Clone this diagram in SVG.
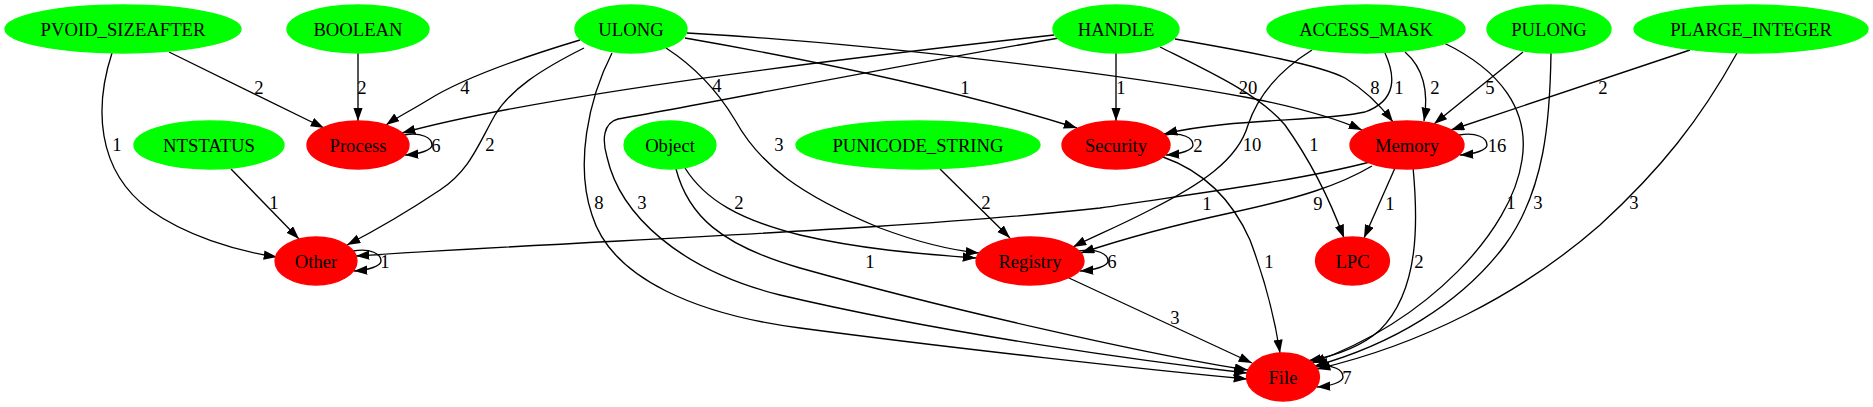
<svg xmlns="http://www.w3.org/2000/svg" width="1873" height="407" viewBox="0 0 1873 407">
<style>
text{font-family:"Liberation Serif","Times New Roman",serif;font-size:18.67px;text-anchor:middle;fill:#000}
.g ellipse{fill:#00ff00;stroke:#00ff00;stroke-width:1.33}
.r ellipse{fill:#ff0000;stroke:#ff0000;stroke-width:1.33}
#edges path{fill:none;stroke:#000;stroke-width:1.33;marker-end:url(#a)}
</style>
<defs>
<marker id="a" markerUnits="userSpaceOnUse" viewBox="0 0 14 10" markerWidth="14" markerHeight="10" refX="13.3" refY="4.67" orient="auto">
<path d="M0,0 L13.3,4.67 L0,9.33 z" fill="#000" stroke="none"/>
</marker>
</defs>
<rect width="1873" height="407" fill="#fff"/>
<g id="edges">
<path d="M169,52 L324,128"/><text x="259" y="93.5">2</text>
<path d="M112,53 C95,105 95,170 150,210 C185,235 235,251 277,257"/><text x="117" y="150.5">1</text>
<path d="M358,53 L358,121"/><text x="362" y="93.5">2</text>
<path d="M580,40 C520,58 460,80 428,100 C410,111 396,118 386,125"/><text x="465" y="93.5">4</text>
<path d="M584,48 C540,70 510,90 495,115 C478,145 470,170 440,190 C410,210 380,228 347,245"/><text x="490" y="150.5">2</text>
<path d="M612,53 C588,100 575,165 592,215 C612,280 700,315 800,328 C950,348 1150,370 1247,379"/><text x="599" y="208.5">8</text>
<path d="M666,48 C700,70 720,95 735,120 C760,165 800,195 880,228 C920,243 950,250 979,253"/><text x="779" y="150.5">3</text>
<path d="M685,38 C800,58 950,88 1077,128"/><text x="965" y="93.5">1</text>
<path d="M687,33 C850,42 1100,70 1250,98 C1300,108 1335,118 1362,130"/><text x="1248" y="93.5">20</text>
<path d="M1054,35 C900,52 550,92 402,133"/><text x="717" y="91.5">4</text>
<path d="M1059,38 C900,65 700,105 618,119 C603,123 602,140 607,157 C620,215 680,270 780,295 C950,335 1150,362 1247,373"/><text x="642" y="208.5">3</text>
<path d="M1116,53 L1116,121"/><text x="1121" y="93.5">1</text>
<path d="M1175,39 C1250,52 1320,65 1345,78 C1365,90 1380,105 1393,122"/><text x="1375" y="93.5">8</text>
<path d="M1160,47 C1210,72 1260,95 1285,125 C1310,160 1330,200 1344,238"/><text x="1314" y="150.5">1</text>
<path d="M1385,53 C1395,75 1398,100 1365,112 C1320,122 1230,118 1164,134"/><text x="1399" y="93.5">1</text>
<path d="M1405,52 C1420,65 1430,85 1424,121"/><text x="1435" y="93.5">2</text>
<path d="M1312,50 C1280,70 1258,95 1248,125 C1238,160 1200,185 1150,210 C1115,228 1090,238 1073,247"/><text x="1252" y="150.5">10</text>
<path d="M1444,43 C1500,70 1530,110 1522,160 C1512,230 1430,320 1312,363"/><text x="1511" y="208.5">1</text>
<path d="M1523,52 L1434,124"/><text x="1490" y="93.5">5</text>
<path d="M1551,53 C1550,120 1545,190 1505,245 C1460,305 1390,345 1315,366"/><text x="1538" y="208.5">3</text>
<path d="M1690,50 L1451,130"/><text x="1603" y="93.5">2</text>
<path d="M1737,53 C1700,120 1660,170 1600,225 C1520,295 1420,345 1317,369"/><text x="1634" y="208.5">3</text>
<path d="M231,169 L299,239"/><text x="274" y="208.5">1</text>
<path d="M685,168 C705,200 740,220 800,235 C860,249 920,254 976,258"/><text x="739" y="208.5">2</text>
<path d="M676,169 C688,215 720,245 800,268 C950,310 1150,355 1248,370"/><text x="870" y="267.5">1</text>
<path d="M940,169 L1010,238"/><text x="986" y="208.5">2</text>
<path d="M1163,157 C1200,170 1230,195 1250,240 C1265,280 1275,320 1280,353"/><text x="1269" y="267.5">1</text>
<path d="M1370,162 C1300,180 1220,190 1100,208 C900,230 600,240 356,256"/><text x="1207" y="209.5">1</text>
<path d="M1372,166 C1340,185 1300,198 1230,213 C1170,226 1120,240 1081,253"/><text x="1318" y="209.5">9</text>
<path d="M1395,168 L1364,238"/><text x="1390" y="209.5">1</text>
<path d="M1413,167 C1418,220 1420,290 1380,330 C1360,348 1335,356 1308,361"/><text x="1419" y="267.5">2</text>
<path d="M1069,278 L1252,363"/><text x="1175" y="323.5">3</text>
<path d="M404,135 C422,132 432,138 432,145 C432,150 420,154 405,155"/><text x="436" y="151.5">6</text>
<path d="M1165,135 C1183,132 1193,138 1193,145 C1193,150 1181,154 1166,155"/><text x="1198" y="151.5">2</text>
<path d="M1459,135 C1477,132 1487,138 1487,145 C1487,150 1475,154 1460,155"/><text x="1497" y="151.5">16</text>
<path d="M353,251 C371,248 381,254 381,261 C381,266 369,270 354,271"/><text x="385" y="267.5">1</text>
<path d="M1079,251 C1097,248 1108,254 1108,261 C1108,266 1095,270 1080,271"/><text x="1112" y="267.5">6</text>
<path d="M1316,367 C1334,364 1343,370 1343,377 C1343,382 1331,386 1317,387"/><text x="1347" y="383.5">7</text>
</g>
<g id="PVOID_SIZEAFTER" class="g"><ellipse cx="123" cy="29" rx="118" ry="24"/><text x="123" y="35.5">PVOID_SIZEAFTER</text></g>
<g id="BOOLEAN" class="g"><ellipse cx="358" cy="29" rx="71" ry="24"/><text x="358" y="35.5">BOOLEAN</text></g>
<g id="ULONG" class="g"><ellipse cx="631" cy="29" rx="56" ry="24"/><text x="631" y="35.5">ULONG</text></g>
<g id="HANDLE" class="g"><ellipse cx="1116" cy="29" rx="63" ry="24"/><text x="1116" y="35.5">HANDLE</text></g>
<g id="ACCESS_MASK" class="g"><ellipse cx="1366" cy="29" rx="99" ry="24"/><text x="1366" y="35.5">ACCESS_MASK</text></g>
<g id="PULONG" class="g"><ellipse cx="1549" cy="29" rx="62" ry="24"/><text x="1549" y="35.5">PULONG</text></g>
<g id="PLARGE_INTEGER" class="g"><ellipse cx="1751" cy="29" rx="117" ry="24"/><text x="1751" y="35.5">PLARGE_INTEGER</text></g>
<g id="NTSTATUS" class="g"><ellipse cx="209" cy="145" rx="75" ry="24"/><text x="209" y="151.5">NTSTATUS</text></g>
<g id="Process" class="r"><ellipse cx="358" cy="145" rx="51" ry="24"/><text x="358" y="151.5">Process</text></g>
<g id="Object" class="g"><ellipse cx="670" cy="145" rx="46" ry="24"/><text x="670" y="151.5">Object</text></g>
<g id="PUNICODE_STRING" class="g"><ellipse cx="918" cy="145" rx="122" ry="24"/><text x="918" y="151.5">PUNICODE_STRING</text></g>
<g id="Security" class="r"><ellipse cx="1116" cy="145" rx="54" ry="24"/><text x="1116" y="151.5">Security</text></g>
<g id="Memory" class="r"><ellipse cx="1407" cy="145" rx="57" ry="24"/><text x="1407" y="151.5">Memory</text></g>
<g id="Other" class="r"><ellipse cx="316" cy="261" rx="41" ry="24"/><text x="316" y="267.5">Other</text></g>
<g id="Registry" class="r"><ellipse cx="1030" cy="261" rx="54" ry="24"/><text x="1030" y="267.5">Registry</text></g>
<g id="LPC" class="r"><ellipse cx="1352.5" cy="261" rx="37" ry="24"/><text x="1352.5" y="267.5">LPC</text></g>
<g id="File" class="r"><ellipse cx="1283" cy="377" rx="36.5" ry="24"/><text x="1283" y="383.5">File</text></g>
</svg>
